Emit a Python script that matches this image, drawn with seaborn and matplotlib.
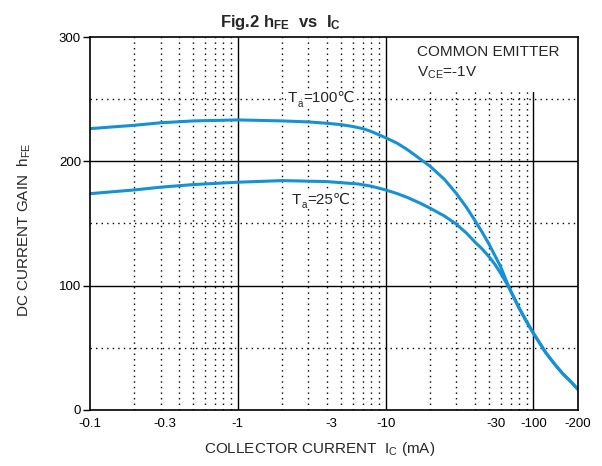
import numpy as np
import pandas as pd
import matplotlib
matplotlib.use("Agg")
import matplotlib.pyplot as plt
from matplotlib.ticker import NullLocator
import seaborn as sns

# values (|Ic| in mA, hFE)
ic_100 = [0.1, 0.2, 0.3, 0.5, 1, 2, 3, 4, 5, 6, 7, 8, 10, 12, 14, 16, 18, 20, 25, 30, 35, 40, 45, 50,
          55, 60, 65, 70, 80, 90, 100, 122, 140, 157, 180, 200]
hfe_100 = [226.3, 229, 231, 232.5, 233.3, 232.5, 231.7, 230.6, 229.5, 228, 226.3, 224, 219, 214.5, 209.5,
           204.5, 200, 196, 185.5, 174.3, 163.5, 152.8, 143, 133.5, 124, 115.3, 105, 96, 82, 71, 61.7,
           45.6, 36.5, 29.5, 22.5, 16.6]

ic_25 = [0.1, 0.2, 0.3, 0.5, 1, 2, 4, 6.5, 8, 10, 12, 14, 17, 20, 25, 30, 35, 40, 45, 50, 55, 60, 65, 70,
         80, 90, 100, 122, 140, 157, 180, 200]
hfe_25 = [174, 177, 179.2, 181.3, 183.2, 184.5, 183.7, 181.8, 180, 177, 174, 171, 166.5, 162.3, 156,
          149.6, 142.6, 135.4, 129.5, 123.4, 117, 110, 103, 96, 82, 71, 61.7, 45.6, 36.5, 29.5, 22.5, 16.6]

xtick_pos = [0.1, 0.32, 1, 4.3, 10, 56, 100, 200]
xtick_labels = ["-0.1", "-0.3", "-1", "-3", "-10", "-30", "-100", "-200"]
yticks = [0, 100, 200, 300]

df = pd.concat([
    pd.DataFrame({"Ic": ic_100, "hFE": hfe_100, "Ta": "100"}),
    pd.DataFrame({"Ic": ic_25, "hFE": hfe_25, "Ta": "25"}),
])

sns.set_style("white")
plt.rcParams["font.family"] = ["Liberation Sans", "DejaVu Sans"]
plt.rcParams["mathtext.fontset"] = "custom"
plt.rcParams["mathtext.rm"] = "Liberation Sans"
plt.rcParams["mathtext.bf"] = "Liberation Sans:bold"
plt.rcParams["mathtext.it"] = "Liberation Sans:italic"
plt.rcParams["mathtext.sf"] = "Liberation Sans"

blue = "#1591d6"
fig, ax = plt.subplots(figsize=(6.02, 4.66), dpi=100)
fig.subplots_adjust(left=0.1495, right=0.960, bottom=0.1202, top=0.9206)

sns.lineplot(data=df, x="Ic", y="hFE", hue="Ta", palette=[blue, blue],
             linewidth=2.2, legend=False, ax=ax, zorder=4, sort=False)

ax.set_xscale("log")
ax.set_xlim(0.1, 200)
ax.set_ylim(0, 300)

# grid drawn by hand: solid decades, dotted 2..9
dots = (0, (1, 3))
for dec in [0.1, 1, 10]:
    for m in range(2, 10):
        ax.axvline(m * dec, color="k", lw=1.0, ls=dots, zorder=1)
for v in [1, 10, 100]:
    ax.axvline(v, color="k", lw=1.0, zorder=1)
for h in [100, 200]:
    ax.axhline(h, color="k", lw=1.0, zorder=1)
for h in [50, 150, 250]:
    ax.axhline(h, color="k", lw=1.0, ls=dots, zorder=1)

# blank area behind the condition text
ax.axvspan(10.4, 200, ymin=256 / 300, ymax=1, color="white", zorder=1.5, lw=0)

ax.set_xticks(xtick_pos, xtick_labels)
ax.xaxis.set_minor_locator(NullLocator())
ax.set_yticks(yticks)
ax.tick_params(axis="x", length=0, pad=6, labelsize=9.5, colors="k")
ax.tick_params(axis="y", length=5, width=1.0, pad=1.5, labelsize=9.5, colors="k", direction="out", left=True)
ax.set_xlabel("")
ax.set_ylabel("")
for s in ax.spines.values():
    s.set_color("k")
    s.set_linewidth(1.2)
    s.set_zorder(5)

ax.text(16.4, 288, "COMMON EMITTER", fontsize=11, va="center", ha="left", zorder=6)
ax.text(16.4, 271, r"$\mathrm{V}_{\mathrm{CE}}$=-1V", fontsize=11, va="center", ha="left", zorder=6)


def temp_label(x, y, rest):
    # "T" + small subscript "a" + rest, pieced together so the ℃ sign can fall back to DejaVu
    box = dict(facecolor="white", edgecolor="none", pad=1)
    ax.annotate("T", xy=(x, y), xytext=(0, 0), textcoords="offset points", fontsize=11,
                ha="left", va="baseline", zorder=6, bbox=box)
    ax.annotate(rest, xy=(x, y), xytext=(11.2, 0), textcoords="offset points", fontsize=11,
                ha="left", va="baseline", zorder=6, bbox=box)
    ax.annotate("a", xy=(x, y), xytext=(6.9, -3.2), textcoords="offset points", fontsize=7,
                ha="left", va="baseline", zorder=7)


temp_label(2.18, 247.5, "=100℃")
temp_label(2.31, 166, "=25℃")

fig.text(220 / 602, 1 - 27 / 466, r"Fig.2 $\mathbf{h}_{\mathbf{FE}}$  vs  $\mathbf{I}_{\mathbf{C}}$",
         fontsize=12, fontweight="bold", ha="left", va="baseline")
fig.text(320 / 602, 1 - 449 / 466, r"COLLECTOR CURRENT  $\mathrm{I}_{\mathrm{C}}$ (mA)",
         fontsize=11, ha="center", va="center")
fig.text(24 / 602, 1 - 230 / 466, r"DC CURRENT GAIN  $\mathrm{h}_{\mathrm{FE}}$",
         fontsize=11, ha="center", va="center", rotation=90)

fig.savefig("out.png", dpi=100)
